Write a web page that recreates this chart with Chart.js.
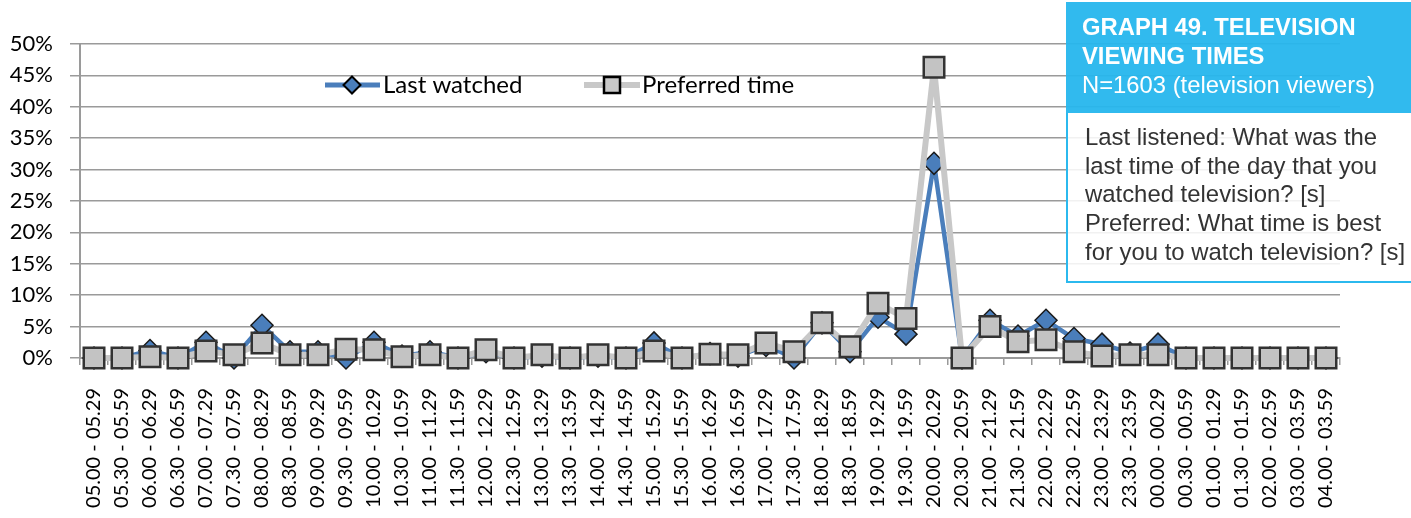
<!DOCTYPE html>
<html>
<head>
<meta charset="utf-8">
<script src="https://cdn.jsdelivr.net/npm/chart.js@4.4.1/dist/chart.umd.min.js"></script>
<style>
  html, body { margin: 0; padding: 0; background: #fff; overflow: hidden; }
  #wrap { position: relative; width: 1411px; height: 518px; overflow: hidden; }
  #myChart { position: absolute; left: 0; top: 0; }
  .head {
    position: absolute; left: 1066px; top: 2px; width: 360px; height: 111px;
    background: rgba(38, 182, 237, 0.95); color: #fff;
    font-family: "Liberation Sans", Arial, sans-serif; font-size: 23.8px; line-height: 29px;
    box-sizing: border-box; padding: 10px 0 0 16px;
  }
  .head b { font-weight: bold; }
  .note {
    position: absolute; left: 1066px; top: 113px; width: 360px; height: 170px;
    background: rgba(255, 255, 255, 0.86); color: #333;
    border: 2px solid rgb(43, 185, 238); border-top: none;
    font-family: "Liberation Sans", Arial, sans-serif; font-size: 23.9px; line-height: 28.7px;
    box-sizing: border-box; padding: 10px 0 0 17px;
  }
</style>
</head>
<body>
<div id="wrap">
  <canvas id="myChart" width="1411" height="518"></canvas>
  <div class="head"><b>GRAPH 49. TELEVISION<br>VIEWING TIMES</b><br>N=1603 (television viewers)</div>
  <div class="note">Last listened: What was the<br>last time of the day that you<br>watched television? [s]<br>Preferred: What time is best<br>for you to watch television? [s]</div>
</div>
<script>
// half-hour slots
var slots = [
  '05.00 - 05.29', '05.30 - 05.59', '06.00 - 06.29', '06.30 - 06.59',
  '07.00 - 07.29', '07.30 - 07.59', '08.00 - 08.29', '08.30 - 08.59',
  '09.00 - 09.29', '09.30 - 09.59', '10.00 - 10.29', '10.30 - 10.59',
  '11.00 - 11.29', '11.30 - 11.59', '12.00 - 12.29', '12.30 - 12.59',
  '13.00 - 13.29', '13.30 - 13.59', '14.00 - 14.29', '14.30 - 14.59',
  '15.00 - 15.29', '15.30 - 15.59', '16.00 - 16.29', '16.30 - 16.59',
  '17.00 - 17.29', '17.30 - 17.59', '18.00 - 18.29', '18.30 - 18.59',
  '19.00 - 19.29', '19.30 - 19.59', '20.00 - 20.29', '20.30 - 20.59',
  '21.00 - 21.29', '21.30 - 21.59', '22.00 - 22.29', '22.30 - 22.59',
  '23.00 - 23.29', '23.30 - 23.59', '00.00 - 00.29', '00.30 - 00.59',
  '01.00 - 01.29', '01.30 - 01.59', '02.00 - 02.59', '03.00 - 03.59',
  '04.00 - 03.59'
];

// percent of viewers
var lastWatched = [
  0, 0, 1.2, 0, 2.5, 0, 5.2, 1.0, 1.0, 0, 2.5, 0.3,
  1.0, 0, 1.0, 0, 0.3, 0, 0.3, 0, 2.4, 0, 0.7, 0.3,
  2.0, 0, 5.6, 1.0, 6.5, 3.8, 31.0, 0, 6.0, 3.5, 6.0, 3.1,
  2.2, 0.8, 2.2, 0, 0, 0, 0, 0, 0
];
var preferredTime = [
  0, 0, 0.2, 0, 1.1, 0.5, 2.4, 0.5, 0.5, 1.4, 1.3, 0.2,
  0.5, 0, 1.3, 0, 0.5, 0, 0.5, 0, 1.1, 0, 0.6, 0.5,
  2.4, 1.0, 5.6, 1.8, 8.7, 6.3, 46.3, 0, 5.0, 2.6, 2.9, 1.0,
  0.3, 0.5, 0.5, 0, 0, 0, 0, 0, 0
];
var yTicks = [0, 5, 10, 15, 20, 25, 30, 35, 40, 45, 50];

var blue = 'rgb(74, 126, 187)';
var lightGray = 'rgb(200, 200, 200)';
var gridGray = '#9a9a9a';

// legend drawn inside the plot, like the original
var innerLegend = {
  id: 'innerLegend',
  afterDraw: function (chart) {
    var ctx = chart.ctx;
    var y = 85;
    ctx.save();
    // last watched
    ctx.strokeStyle = blue;
    ctx.lineWidth = 5;
    ctx.beginPath(); ctx.moveTo(325, y); ctx.lineTo(380, y); ctx.stroke();
    ctx.beginPath();
    ctx.moveTo(352, y - 8.5); ctx.lineTo(360.5, y); ctx.lineTo(352, y + 8.5); ctx.lineTo(343.5, y);
    ctx.closePath();
    ctx.fillStyle = blue; ctx.fill();
    ctx.lineWidth = 2; ctx.strokeStyle = '#000'; ctx.stroke();
    // preferred
    ctx.strokeStyle = lightGray;
    ctx.lineWidth = 6;
    ctx.beginPath(); ctx.moveTo(584, y); ctx.lineTo(640, y); ctx.stroke();
    ctx.fillStyle = lightGray;
    ctx.fillRect(604, y - 8, 16, 16);
    ctx.lineWidth = 2.5; ctx.strokeStyle = '#000';
    ctx.strokeRect(604, y - 8, 16, 16);
    ctx.fillStyle = '#000';
    ctx.font = '24px Lato';
    ctx.textBaseline = 'middle';
    ctx.fillText('Last watched', 383, y);
    ctx.fillText('Preferred time', 642, y);
    ctx.restore();
  }
};

var ctx = document.getElementById('myChart');
var myChart = new Chart(ctx, {
  type: 'line',
  data: {
    labels: slots,
    datasets: [{
      label: 'Last watched',
      data: lastWatched,
      borderColor: blue,
      borderWidth: 4.5,
      borderJoinStyle: 'round',
      backgroundColor: blue,
      pointStyle: 'rectRot',
      pointRadius: 11,
      pointBorderColor: '#1a1a1a',
      pointBorderWidth: 1.5,
      pointBackgroundColor: blue,
      tension: 0,
      clip: false,
      order: 2
    }, {
      label: 'Preferred time',
      data: preferredTime,
      borderColor: lightGray,
      borderWidth: 6,
      borderJoinStyle: 'round',
      backgroundColor: lightGray,
      pointStyle: 'rect',
      pointRadius: 14.5,
      pointBorderColor: '#333',
      pointBorderWidth: 2.5,
      pointBackgroundColor: 'rgb(195, 195, 195)',
      tension: 0,
      clip: false,
      order: 1
    }]
  },
  options: {
    responsive: false,
    animation: false,
    layout: { padding: { top: 44, right: 71, left: 0, bottom: 0 } },
    plugins: {
      legend: { display: false },
      tooltip: { enabled: false }
    },
    scales: {
      x: {
        offset: true,
        afterFit: function (scale) { scale.height = 160; },
        grid: {
          offset: true,
          drawOnChartArea: false,
          drawTicks: true,
          tickLength: 7,
          color: gridGray,
          lineWidth: 1.5
        },
        border: { color: gridGray, width: 2 },
        ticks: {
          autoSkip: false,
          maxRotation: 90,
          minRotation: 90,
          padding: 23,
          color: '#000',
          font: { family: 'Lato', size: 20 }
        }
      },
      y: {
        min: 0,
        max: 50,
        afterFit: function (scale) { scale.width = 80; },
        afterBuildTicks: function (scale) {
          scale.ticks = yTicks.map(function (v) { return { value: v }; });
        },
        grid: {
          color: gridGray,
          lineWidth: 1.5,
          tickLength: 10
        },
        border: { color: gridGray, width: 2 },
        ticks: {
          padding: 17,
          color: '#000',
          font: { family: 'Lato', size: 22 },
          callback: function (v) { return v + '%'; }
        }
      }
    }
  },
  plugins: [innerLegend]
});
</script>
</body>
</html>
